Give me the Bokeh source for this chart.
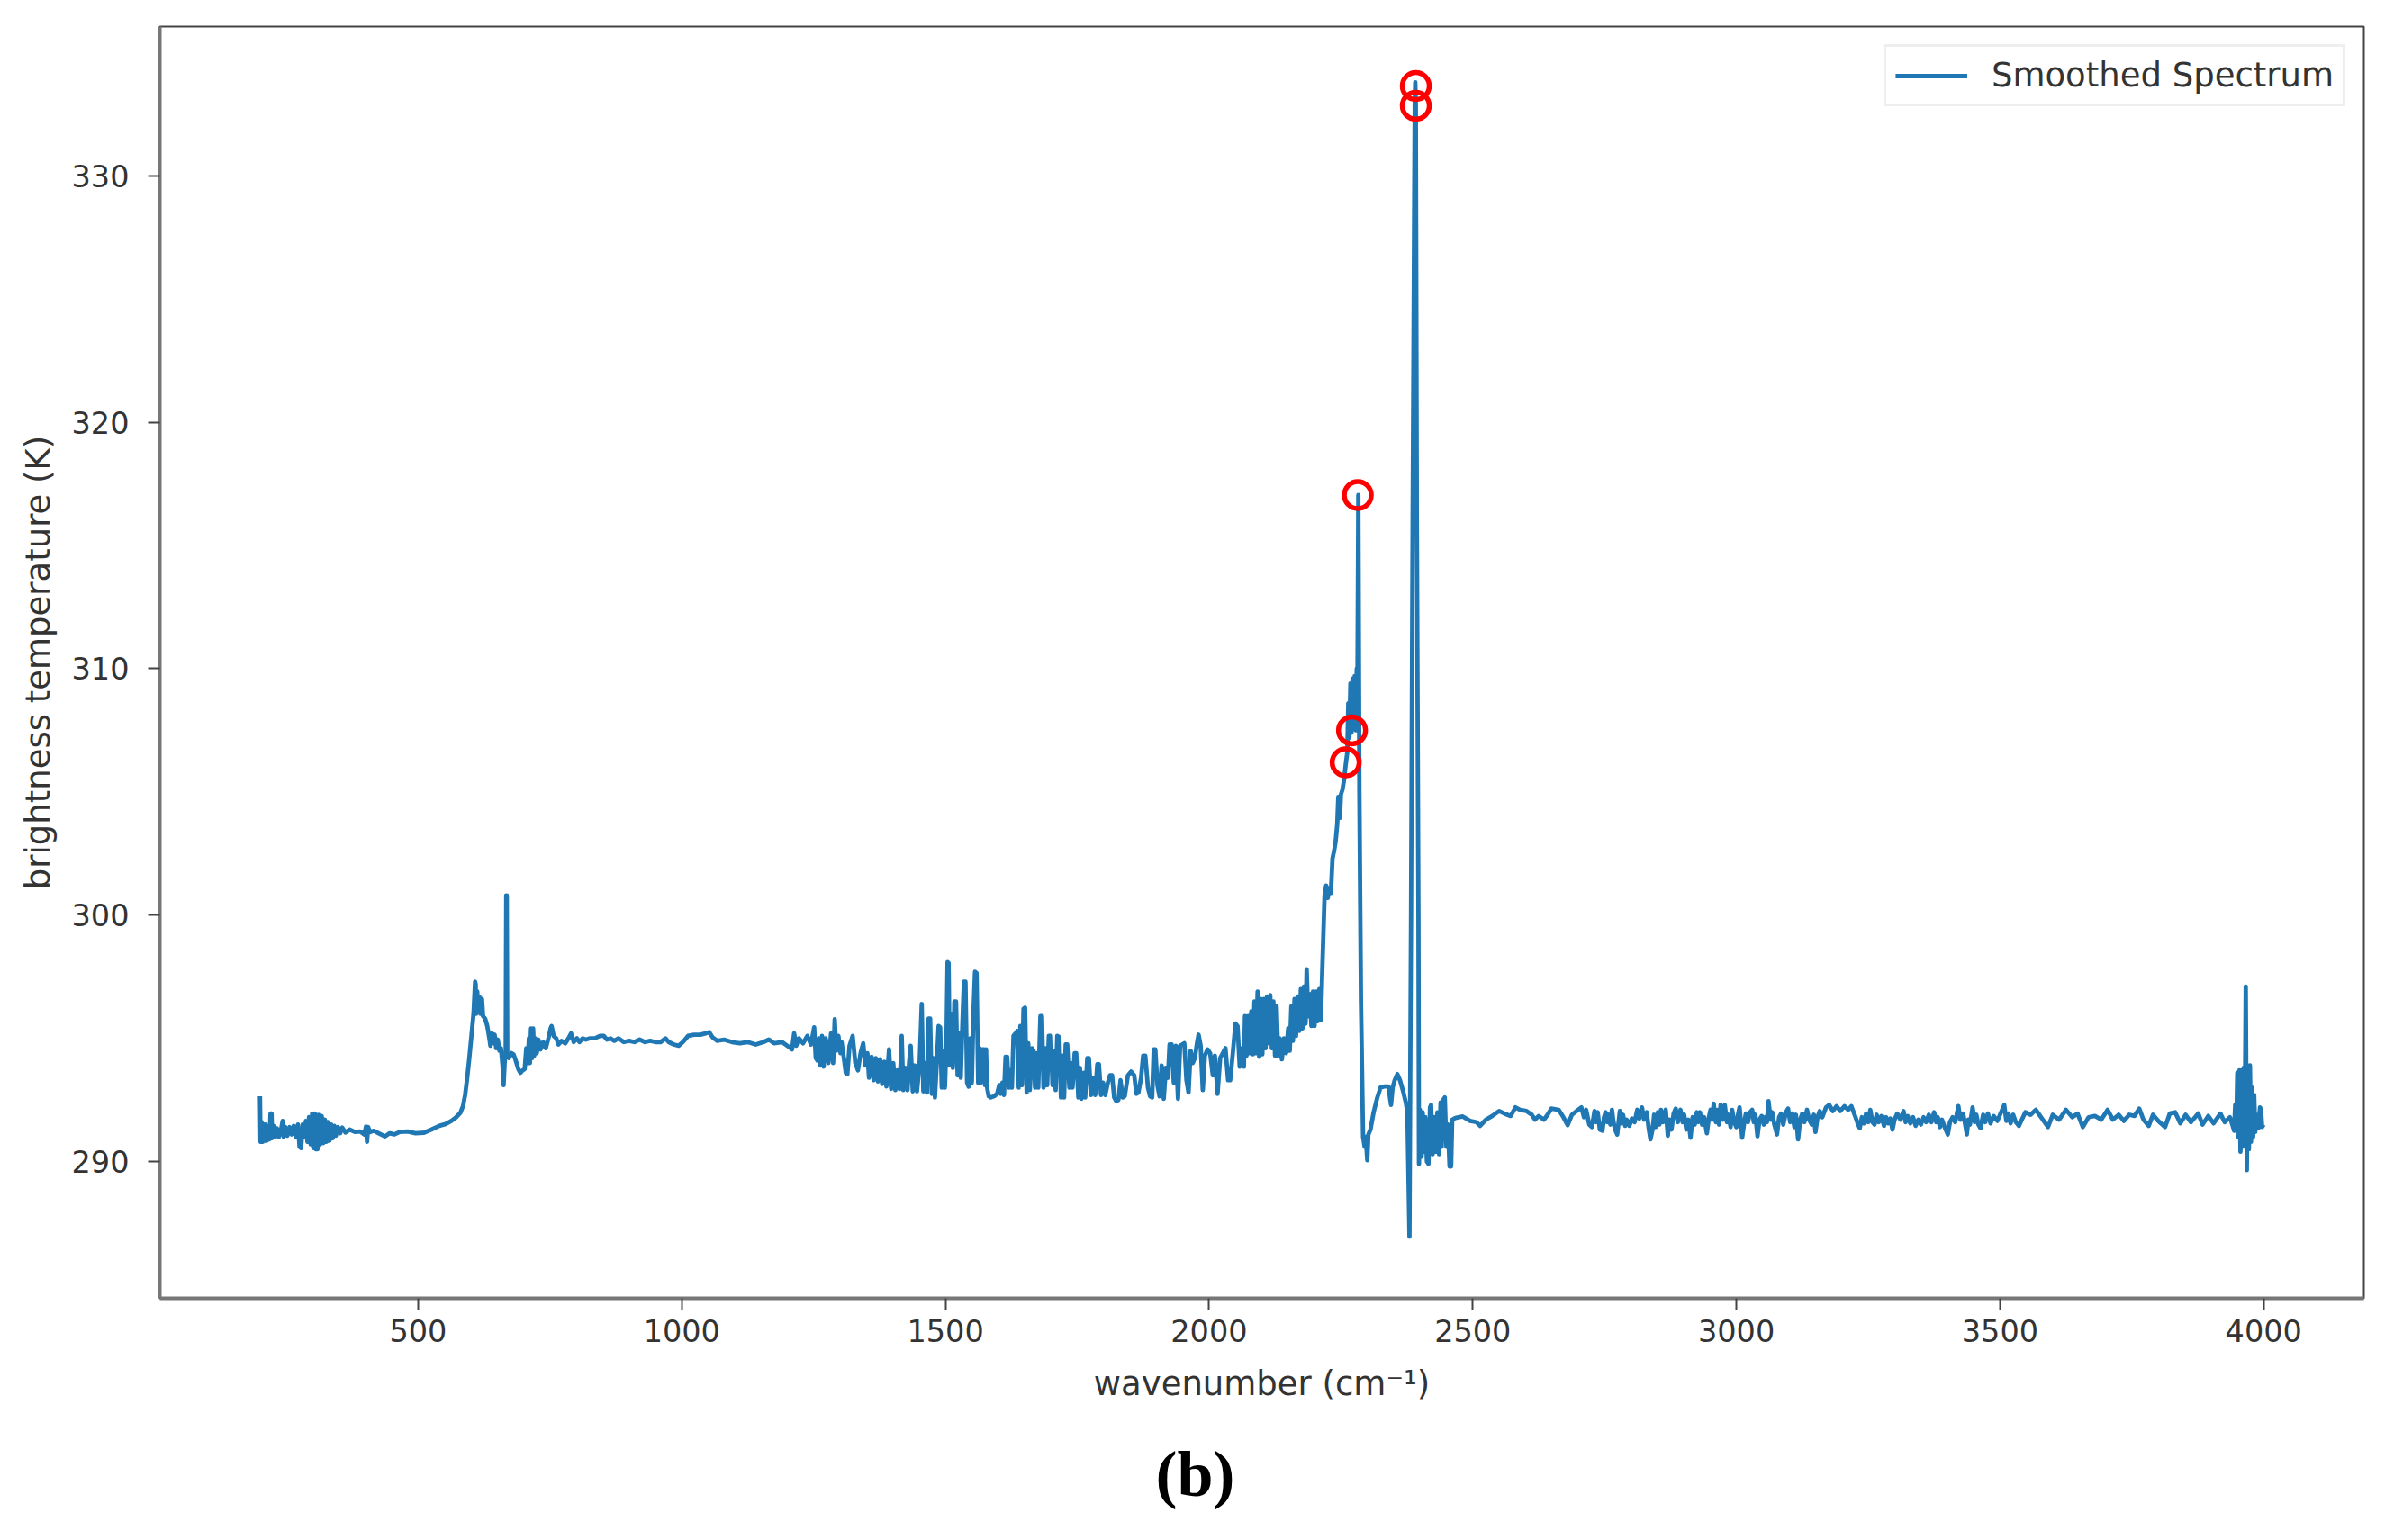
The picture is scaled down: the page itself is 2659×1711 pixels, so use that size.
from bokeh.plotting import figure
from bokeh.embed import file_html
from bokeh.resources import INLINE
from bokeh.models import FixedTicker, Range1d, Title

far_ir = [(200,292.65),(201,290.8),(203,291.6),(205,290.8),(207,291.5),(209,290.85),(211,291.5),(213,290.85),(215,291.4),(218,290.9),(220,291.95),(222,291.95),(223,290.95),(226,291.45),(229,291),(232,291.35),(236,291.0),(240,291.3),(243,291.65),(245,291.0),(248,291.4),(252,291.05),(256,291.4),(260,291.1),(264,291.45),(268,291.0),(272,291.5),(275,290.6),(278,290.55),(281,291.5),(284,291),(287,291.65),(290,290.8),(293,291.8),(296,290.7),(299,291.95),(301,290.55),(304,291.95),(306,290.5),(309,290.5),(311,291.9),(314,290.7),(317,291.85),(320,290.75),(323,291.7),(326,290.8),(329,291.6),(332,290.85),(335,291.5),(338,290.95),(341,291.45),(344,291.05),(348,291.4),(352,291.15),(356,291.38),(362,291.18),(370,291.3),(380,291.2),(390,291.22),(398,291.1),(401,291.42),(403,290.8),(405,291.4),(409,291.2),(416,291.25),(425,291.15),(437,291.02),(446,291.15),(455,291.1),(465,291.2),(480,291.22),(495,291.15),(511,291.17),(525,291.3),(540,291.45),(552,291.52),(563,291.65),(572,291.8),(580,291.98),(585,292.25),(589,292.7)]

co2_15um = [(593,293.4),(597,294.2),(601,295.1),(605,296),(608,297.3),(609,297.2),(610,296.0),(612,296.9),(614,296.1),(616,296.7),(618,296.0),(621,296.6),(623,295.9),(627,295.8),(631,295.5),(635,295),(637,294.7),(640,295.2),(642,294.8),(645,295.15),(648,294.6),(651,294.95),(654,294.5),(657,294.6),(660,293.9),(662,293.1),(664,294),(666,294.5),(667,300.8),(668,300.8),(669,294.3),(672,294.2),(677,294.4),(681,294.35),(685,294.1),(690,293.75),(694,293.6),(698,293.7),(702,293.75),(705,294.6),(708,294.0),(710,295.0),(712,294),(714,295.4),(716,294.2),(718,295.4),(720,294.3),(722,295.0),(725,294.4),(728,294.95),(732,294.55),(737,294.85),(742,294.6),(747,295),(751,295.4),(753,295.5),(757,295.1),(762,295),(766,294.75),(772,294.9),(779,294.8),(785,295),(790,295.2),(795,294.85)]

window = [(801,295),(806,294.85),(812,295),(818,294.95),(825,295.0),(835,295),(845,295.1),(852,295.1),(858,294.95),(865,295),(872,294.9),(880,295),(890,294.85),(900,294.9),(910,294.85),(920,294.95),(930,294.85),(940,294.9),(950,294.85),(960,294.85),(969,295),(975,294.85),(985,294.75),(994,294.7),(1002,294.85),(1012,295.1),(1023,295.15),(1035,295.15),(1045,295.2),(1052,295.25),(1058,295.05),(1067,294.9),(1080,294.95),(1095,294.85),(1110,294.8),(1125,294.85),(1140,294.75),(1155,294.85),(1165,294.95),(1175,294.8),(1190,294.85),(1200,294.7),(1209,294.55)]

water_low = [(1213,295.2),(1217,294.7),(1222,295),(1230,294.8),(1238,295.1),(1245,294.75),(1251,295.45),(1254,294.2),(1257,294.1),(1260,295),(1263,293.9),(1266,295.1),(1269,293.85),(1273,295.0),(1278,294.0),(1283,295.2),(1287,294),(1290,295.78),(1293,294.5),(1297,295.1),(1301,294.4),(1303,294.85),(1308,294.1),(1311,293.6),(1314,293.55),(1318,294.7),(1324,295.1),(1329,294),(1334,293.7),(1339,294.4),(1344,294.8),(1348,293.9),(1352,294.4),(1355,293.4),(1360,294.25),(1364,293.3),(1368,294.2),(1372,293.25),(1376,294.15),(1380,293.15),(1384,294.05),(1388,293.05),(1393,294.55),(1397,292.95),(1401,294.0),(1405,292.9),(1409,293.7),(1413,292.95),(1417,295.1),(1420,292.9),(1424,293.8),(1428,292.9),(1431,294),(1434,294.7),(1438,292.85),(1442,293.9),(1446,292.85),(1451,294),(1455,296.4),(1458,292.85),(1462,294.0),(1465,292.8),(1468,295.8),(1471,295.8),(1474,292.75),(1477,294.2),(1480,292.6),(1484,294.2),(1487,295.5),(1490,295.45),(1493,293.0),(1496,294.5),(1499,293),(1502,295),(1504,298.1),(1506,298.05),(1508,293.9),(1511,296),(1514,293.8),(1517,296.5),(1520,296.5),(1523,293.5),(1526,295.2),(1529,293.4),(1532,295.5),(1535,297.3),(1538,297.3),(1541,293.2),(1544,293.04),(1547,295),(1550,293.2),(1553,296),(1556,297.7),(1559,297.65),(1562,293.2),(1565,294.6),(1567,293.2),(1570,294.55),(1573,294.55),(1575,293.1),(1577,294.55),(1579,293)]

water_mid = [(1582,292.65),(1586,292.6),(1592,292.65),(1598,292.75),(1602,293.1),(1605,292.75),(1608,293.2),(1611,292.7),(1614,294.25),(1617,294.25),(1620,293),(1623,293.7),(1626,293),(1629,295.1),(1633,295.2),(1636,295.3),(1639,293),(1642,295.5),(1645,293.1),(1648,296.2),(1651,296.25),(1654,292.8),(1657,294.8),(1660,292.9),(1664,294.6),(1667,294.5),(1670,293),(1673,294.4),(1676,293),(1680,295.9),(1683,295.9),(1686,293),(1690,294.6),(1693,293.1),(1696,295.1),(1700,295.1),(1703,293.1),(1706,294.5),(1709,292.9),(1712,295.1),(1716,295.05),(1719,292.6),(1722,294.3),(1725,292.6),(1728,294.75),(1731,294.75),(1735,293),(1738,294),(1741,293),(1745,294.4),(1748,294.4),(1752,292.6),(1755,293.8),(1758,292.55),(1762,293.6),(1765,292.6),(1769,294.2),(1772,294.2),(1776,292.7),(1780,293.4),(1784,292.7),(1788,293.95),(1791,293.95),(1795,292.7),(1799,293.2),(1803,292.7),(1808,293.2),(1812,293.5),(1816,293.5),(1820,292.6),(1824,292.45),(1828,292.5),(1832,293.3),(1836,292.6),(1840,292.65),(1846,293.5),(1852,293.65),(1858,293.5),(1862,292.75),(1866,292.8),(1871,293.4),(1875,294.3),(1879,294.3),(1884,293),(1888,292.65),(1892,292.6),(1895,294.55),(1898,294.55),(1902,293.1),(1906,292.65),(1910,293.9),(1914,292.55),(1918,293.8),(1922,293.4),(1925,294.75),(1929,294.75),(1933,293.2),(1937,294.7),(1941,292.55),(1945,294.7),(1949,294.75),(1953,294.8),(1957,293.3),(1961,292.8),(1965,294.5),(1969,294),(1973,294.2),(1977,294.8),(1980,295.15),(1984,294.7),(1988,292.9),(1992,294.3),(1997,294.55),(2002,294.4),(2007,293.5),(2011,294.3),(2016,292.75),(2021,294.2),(2026,294.4),(2031,294.6),(2036,293.3),(2040,293.3),(2045,294.4),(2050,295.6),(2054,295.5),(2058,293.85),(2062,294.6),(2066,293.85)]

water_high = [(2068,295.9),(2071,294.3),(2074,295.9),(2077,294.4),(2080,296.1),(2083,294.35),(2086,296.5),(2089,294.4),(2092,296.9),(2095,294.25),(2098,296.6),(2101,294.35),(2104,296.6),(2107,294.6),(2110,296.7),(2113,294.8),(2116,296.75),(2119,294.6),(2122,296.5),(2125,294.3),(2128,296.3),(2131,294.3),(2134,295.0),(2138,294.15),(2142,295.0),(2146,294.4),(2150,295.4),(2153,294.5),(2156,296.3),(2159,294.9),(2162,296.6),(2165,295.1),(2168,296.7),(2171,295.3),(2174,297),(2177,295.4),(2180,297.1),(2183,295.6),(2185,297.8),(2188,295.9),(2191,296.8),(2194,295.5),(2197,296.9),(2200,295.5),(2203,296.9),(2206,295.7),(2209,297),(2212,295.75)]

co2_rise = [(2215,298),(2219,300.8),(2222,301.2),(2225,300.7),(2228,301.1),(2231,300.9),(2234,302.3),(2237,302.6),(2240,303),(2243,303.7),(2245,304.8),(2248,303.95),(2250,304.9),(2253,305.1),(2256,305.5),(2259,306.1),(2262,306.6),(2264,308.6),(2266,307.2),(2268,309.4),(2270,307.4),(2272,309.6),(2274,307.6),(2276,309.7),(2278,307.5),(2280,310),(2281,308),(2283,317.05),(2285,305),(2288,296.5),(2292,291),(2295,290.6),(2297,291),(2300,290.05),(2302,291.1),(2306,291.3),(2312,292),(2319,292.6),(2325,293.0),(2333,293.05),(2340,293.05),(2345,292.3),(2348,293.0),(2352,293.3),(2357,293.55),(2362,293.3),(2368,292.85),(2373,292.4),(2376,292)]

co2_peak = [(2380,286.95),(2383,300),(2386,316),(2390,332.9),(2391,333.8),(2392,332.9),(2394,316),(2397,300),(2398,289.9),(2400,292.1),(2403,290.2),(2405,292),(2408,290.4),(2410,291.8),(2413,290),(2416,289.9),(2419,292.2),(2421,292.3),(2424,290.3),(2427,291.8),(2430,290.4),(2433,292),(2436,290.3),(2439,292.4),(2441,290.6),(2444,292.5),(2447,292.6),(2450,290.6),(2453,291.5),(2456,289.8),(2459,289.8),(2461,291.7)]

near_ir_a = [(2467,291.77),(2481,291.83),(2495,291.65),(2507,291.6),(2514,291.45),(2525,291.7),(2537,291.85),(2550,292.05),(2560,291.95),(2572,291.85),(2581,292.2),(2590,292.1),(2602,292.05),(2612,291.9),(2618,291.7),(2625,291.85),(2635,291.7),(2642,291.9),(2649,292.15),(2663,292.1),(2672,291.8),(2680,291.48),(2688,291.9),(2697,292.05)]

near_ir_b = [(2706,292.2),(2711,291.8),(2715,292.1),(2721,291.5),(2726,291.4),(2731,292.05),(2734,291.6),(2737,292),(2741,291.3),(2746,291.25),(2749,291.8),(2752,292),(2755,291.6),(2758,291.9),(2761,291.5),(2764,292.1),(2767,291.6),(2770,291.3),(2774,291.1),(2779,292.05),(2782,291.55),(2785,291.9),(2789,291.45),(2792,291.7),(2797,291.45),(2802,291.75),(2807,291.6),(2812,292.1),(2816,291.75),(2821,292.2),(2825,291.7),(2830,292),(2834,291.3),(2837,290.9),(2841,291.3),(2844,291.9),(2847,291.4),(2851,292),(2854,291.5),(2857,292.1),(2861,291.6),(2866,292.1),(2870,291.05),(2873,291.7),(2877,291.3),(2881,291.95),(2885,292.15),(2889,291.6),(2894,292.1),(2898,291.6),(2901,291.9),(2905,291.3),(2909,291.7),(2913,290.97),(2917,291.8),(2921,291.5),(2925,292.0),(2928,291.6),(2931,292),(2935,291.5),(2939,291.8),(2944,291.15),(2948,291.8),(2951,292.1),(2954,291.7),(2957,292.35),(2961,291.6),(2964,292.1),(2967,291.5),(2970,292.3),(2974,291.7),(2978,292.3),(2982,291.6),(2985,291.9),(2989,291.4),(2992,292.1),(2996,291.6),(3000,291.4),(3003,291.9),(3006,292.2),(3009,291.5),(3011,290.97),(3015,291.6),(3018,291.95),(3022,291.6),(3026,292),(3030,292.1),(3033,291.6),(3036,291.9),(3040,291.03),(3044,291.7),(3048,291.85),(3052,291.5),(3055,291.8),(3058,291.6),(3061,292.45),(3065,291.7),(3068,292),(3072,291.5),(3077,291.1),(3081,291.8),(3085,291.95),(3089,291.5),(3094,292),(3098,292.15),(3102,291.6),(3106,291.95),(3110,291.4),(3113,291.9),(3117,290.9),(3121,291.7),(3125,291.95),(3129,291.6),(3134,292.1),(3138,291.7),(3143,291.5),(3147,291.9),(3150,291.2),(3154,291.8),(3158,292.05),(3163,291.8),(3170,292.2),(3176,292.3),(3183,292.05),(3190,292.25),(3197,292.05),(3205,292.25),(3212,292.1),(3218,292.25)]

near_ir_c = [(3226,291.8),(3230,291.55),(3234,291.35),(3238,291.8),(3242,291.55),(3246,291.95),(3250,291.6),(3254,292.1),(3258,291.6),(3262,291.5),(3266,291.9),(3270,291.6),(3275,291.85),(3280,291.45),(3284,291.8),(3288,291.55),(3292,291.75),(3296,291.3),(3300,291.7),(3305,291.95),(3311,291.7),(3317,292.05),(3321,291.6),(3325,291.85),(3330,291.55),(3335,291.8),(3340,291.45),(3345,291.7),(3350,291.5),(3355,291.8),(3360,291.6),(3365,291.9),(3370,291.6),(3375,292),(3379,291.6),(3382,291.8),(3386,291.4),(3390,291.7),(3395,291.4),(3401,291.1),(3405,291.6),(3410,291.8),(3415,291.6),(3421,292.25),(3425,291.7),(3430,291.95),(3434,291.5),(3437,291.1),(3440,291.7),(3443,291.5),(3448,292.2),(3452,291.6),(3455,291.9),(3459,291.5),(3463,291.35),(3468,291.9),(3472,291.6),(3477,291.95),(3482,291.55),(3488,291.85),(3495,291.65),(3501,291.95),(3508,292.3),(3512,291.65),(3516,291.95),(3520,291.55),(3525,291.9),(3530,291.6),(3536,291.45),(3548,292),(3558,291.9),(3568,292.1),(3578,291.8),(3591,291.4),(3600,291.9),(3612,291.7),(3625,292.1),(3637,291.8),(3647,291.95),(3657,291.4),(3668,291.8),(3680,291.85),(3692,291.7),(3704,292.1),(3714,291.7),(3725,291.9),(3735,291.65),(3745,291.9),(3755,291.85),(3764,292.15),(3772,291.7),(3782,291.45),(3790,291.9),(3800,291.65),(3813,291.4),(3822,291.95),(3832,292),(3842,291.55),(3852,291.9),(3862,291.6),(3876,291.95),(3884,291.5),(3895,291.85),(3905,291.55),(3918,291.95),(3926,291.6),(3936,291.8)]

end_spike = [(3942,291.4),(3944,291.25),(3946,292.3),(3948,291.3),(3950,293.6),(3952,291),(3954,293.7),(3956,290.4),(3958,293.7),(3960,290.6),(3962,293.8),(3964,290.8),(3966,297.1),(3968,289.65),(3970,293.8),(3972,290.5),(3974,293.9),(3976,290.8),(3978,293),(3980,291),(3982,292.7),(3984,291.2),(3987,291.9),(3990,291.35),(3993,292.2),(3995,292.1),(3997,291.4),(4000,291.5)]

peak_wavenumber = [2392, 2392, 2282, 2271, 2259]
peak_brightness = [333.65, 332.85, 317.05, 307.5, 306.2]

x_ticks = [500, 1000, 1500, 2000, 2500, 3000, 3500, 4000]
y_ticks = [290, 300, 310, 320, 330]

spectrum = far_ir + co2_15um + window + water_low + water_mid + water_high + co2_rise + co2_peak + near_ir_a + near_ir_b + near_ir_c + end_spike
wavenumber = [a for a, _ in spectrum]
brightness = [b for _, b in spectrum]

FONT = "DejaVu Sans"
TXT = "#333333"

p = figure(width=2648, height=1711, output_backend="svg", toolbar_location=None,
           x_range=Range1d(10, 4190), y_range=Range1d(284.45, 336.06),
           min_border_left=177, min_border_right=23, min_border_top=29, min_border_bottom=269,
           x_axis_label="wavenumber (cm⁻¹)", y_axis_label="brightness temperature (K)")
p.background_fill_color = "white"
p.border_fill_color = "white"
p.grid.visible = False
p.outline_line_color = "#444444"
p.outline_line_width = 2

p.xaxis.ticker = FixedTicker(ticks=x_ticks)
p.yaxis.ticker = FixedTicker(ticks=y_ticks)
for ax in (p.xaxis[0], p.yaxis[0]):
    ax.axis_line_color = "#777777"
    ax.axis_line_width = 4
    ax.major_tick_line_color = "#444444"
    ax.major_tick_line_width = 2
    ax.major_tick_out = 13
    ax.major_tick_in = 0
    ax.minor_tick_line_color = None
    ax.major_label_text_font = FONT
    ax.major_label_text_font_size = "33.5px"
    ax.major_label_text_color = TXT
    ax.axis_label_text_font = FONT
    ax.axis_label_text_font_size = "37px"
    ax.axis_label_text_font_style = "normal"
    ax.axis_label_text_color = TXT
p.yaxis.major_label_orientation = 0
p.xaxis.major_label_standoff = 10
p.yaxis.major_label_standoff = 21
p.xaxis.axis_label_standoff = 22
p.yaxis.axis_label_standoff = 13

p.line(wavenumber, brightness, line_color="#1f77b4", line_width=4.8, legend_label="Smoothed Spectrum",
       line_join="round")
p.scatter(peak_wavenumber, peak_brightness, marker="circle", size=30, fill_color=None,
          line_color="#ff0000", line_width=5.5)

lg = p.legend[0]
lg.location = "top_right"
lg.margin = 20
lg.padding = 10
lg.glyph_width = 80
lg.glyph_height = 36
lg.label_height = 36
lg.label_standoff = 27
lg.label_text_font = FONT
lg.label_text_font_size = "37px"
lg.label_text_color = TXT
lg.border_line_color = "#dddddd"
lg.border_line_width = 3
lg.background_fill_alpha = 0.8

p.add_layout(Title(text="(b)", align="left", offset=1106, standoff=68, vertical_align="bottom",
                   text_font="Liberation Serif", text_font_style="bold",
                   text_font_size="72px", text_color="#000000"), "below")

open("out.html", "w").write(file_html(p, INLINE))
